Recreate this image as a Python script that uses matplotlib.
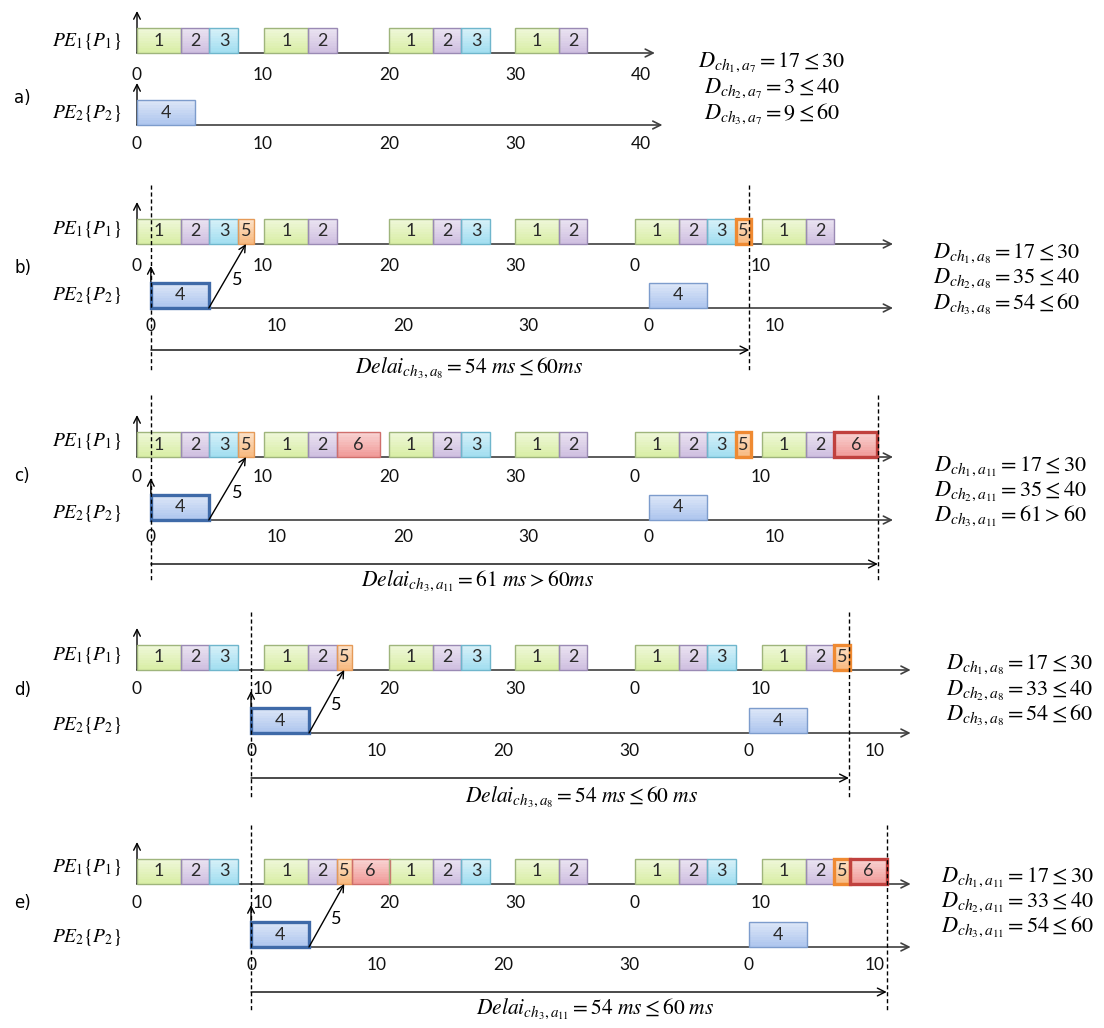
import matplotlib
matplotlib.use("Agg")
import matplotlib.pyplot as plt
import numpy as np
from matplotlib.patches import Rectangle
from matplotlib.colors import to_rgb

plt.rcParams['mathtext.fontset'] = 'stix'

# ---------------- data ----------------
row_names = ['a)', 'b)', 'c)', 'd)', 'e)']
task_dur = {'1': 3.5, '2': 2.25, '3': 2.3, '4': 4.6, '5': 1.2}
dur6 = {'c)': 3.4, 'e)': 3.0}

pe1_groups = {
    'a)': [(0, '123'), (10.1, '12'), (20, '123'), (30, '12')],
    'b)': [(0, '1235'), (10.1, '12'), (20, '123'), (30, '12'), (39.5, '1235'), (49.6, '12')],
    'c)': [(0, '1235'), (10.1, '126'), (20, '123'), (30, '12'), (39.5, '1235'), (49.6, '126')],
    'd)': [(0, '123'), (10.1, '125'), (20, '123'), (30, '12'), (39.5, '123'), (49.6, '125')],
    'e)': [(0, '123'), (10.1, '1256'), (20, '123'), (30, '12'), (39.5, '123'), (49.6, '1256')],
}
# which (group start, task) blocks are drawn with a thick border
pe1_highlight = {
    'a)': [],
    'b)': [(39.5, '5')],
    'c)': [(39.5, '5'), (49.6, '6')],
    'd)': [(49.6, '5')],
    'e)': [(49.6, '5'), (49.6, '6')],
}
pe2_offset = {'a)': 0, 'b)': 1.1, 'c)': 1.1, 'd)': 9.05, 'e)': 9.05}
pe2_blocks = {'a)': [0], 'b)': [0, 39.5], 'c)': [0, 39.5], 'd)': [0, 39.5], 'e)': [0, 39.5]}

tick_pos_a = [0, 10, 20, 30, 40]
tick_lab_a = ['0', '10', '20', '30', '40']
tick_pos = [0, 10, 20, 30, 39.5, 49.5]
tick_lab = ['0', '10', '20', '30', '0', '10']

axis_end_pe1 = {'a)': 41.1, 'b)': 60.0, 'c)': 60.0, 'd)': 61.4, 'e)': 61.4}
axis_end_pe2 = {'a)': 41.7, 'b)': 60.0, 'c)': 60.0, 'd)': 61.4, 'e)': 61.4}

delay_end = {'b)': 48.6, 'c)': 58.8, 'd)': 56.5, 'e)': 59.5}
delay_text = {
    'b)': r'$Delai_{ch_3,a_8} = 54\ ms \leq 60ms$',
    'c)': r'$Delai_{ch_3,a_{11}} = 61\ ms > 60ms$',
    'd)': r'$Delai_{ch_3,a_8} = 54\ ms \leq 60\ ms$',
    'e)': r'$Delai_{ch_3,a_{11}} = 54\ ms \leq 60\ ms$',
}
equations = {
    'a)': [r'$D_{ch_1,a_7} = 17 \leq 30$', r'$D_{ch_2,a_7} = 3 \leq 40$', r'$D_{ch_3,a_7} = 9 \leq 60$'],
    'b)': [r'$D_{ch_1,a_8} = 17 \leq 30$', r'$D_{ch_2,a_8} = 35 \leq 40$', r'$D_{ch_3,a_8} = 54 \leq 60$'],
    'c)': [r'$D_{ch_1,a_{11}} = 17 \leq 30$', r'$D_{ch_2,a_{11}} = 35 \leq 40$', r'$D_{ch_3,a_{11}} = 61 > 60$'],
    'd)': [r'$D_{ch_1,a_8} = 17 \leq 30$', r'$D_{ch_2,a_8} = 33 \leq 40$', r'$D_{ch_3,a_8} = 54 \leq 60$'],
    'e)': [r'$D_{ch_1,a_{11}} = 17 \leq 30$', r'$D_{ch_2,a_{11}} = 33 \leq 40$', r'$D_{ch_3,a_{11}} = 54 \leq 60$'],
}

# ---------------- layout (pixels) ----------------
W, H = 1104, 1028
PX0, PXMS = 137, 12.6
layout = {
    'a)': dict(y1=53, l1=75, y2=125, l2=144, row=98, n1=42, n2=114),
    'b)': dict(y1=244, l1=266, y2=308, l2=326, dl=350, dt=368, d0=185, d1=372, row=268, n1=230, n2=296),
    'c)': dict(y1=457, l1=477, y2=520, l2=537, dl=564, dt=581, d0=395, d1=582, row=476, n1=441, n2=514),
    'd)': dict(y1=670, l1=689, y2=733, l2=751, dl=778, dt=797, d0=612, d1=797, row=690, n1=655, n2=726),
    'e)': dict(y1=884, l1=903, y2=947, l2=965, dl=992, dt=1009, d0=825, d1=1010, row=903, n1=868, n2=938),
}
delay_text_x = {'b)': 469, 'c)': 478, 'd)': 582, 'e)': 595}
eq_x = {'a)': 772, 'b)': 1007, 'c)': 1010, 'd)': 1020, 'e)': 1017}
eq_y = {'a)': [62, 88, 114], 'b)': [253, 278, 304], 'c)': [466, 491, 516],
        'd)': [664, 690, 715], 'e)': [877, 902, 927]}

fill = {'1': '#d9eea6', '2': '#cfbfe0', '3': '#a2def0', '4': '#aec6ee', '5': '#f8ba80', '6': '#f09a98'}
edge = {'1': '#9fb57c', '2': '#9a8ab4', '3': '#6fb6cc', '4': '#7d9ccc', '5': '#e59a58', '6': '#cf6f6c'}
edge_hi = {'4': '#3f6aa8', '5': '#ef8a32', '6': '#c0413e'}
BH = 25
NBANDS = 10

fig = plt.figure(figsize=(W / 100, H / 100), dpi=100)
ax = fig.add_axes([0, 0, 1, 1])
ax.axis('off')
ax.set_xlim(-PX0 / PXMS, (W - PX0) / PXMS)
ax.set_ylim(H, 0)

def ftext(x, y, s, **kw):
    fig.text(x / W, 1 - y / H, s, va='center', zorder=10, **kw)

def block(t, d, yax, lab, hi=False):
    ec = edge_hi[lab] if hi else edge[lab]
    lw = 2.4 if hi else 1.0
    base = np.array(to_rgb(fill[lab]))
    top = base + (1 - base) * 0.55
    hb = BH / NBANDS
    for k in range(NBANDS):
        f = k / (NBANDS - 1)
        c = top * (1 - f) + base * f
        ax.add_patch(Rectangle((t, yax - BH + k * hb), d, hb + 0.3, facecolor=c,
                               edgecolor='none', lw=0, zorder=2.5))
    ax.add_patch(Rectangle((t, yax - BH), d, BH, facecolor='none', edgecolor=ec, lw=lw, zorder=3))
    ax.text(t + d / 2, yax - BH / 2, lab, ha='center', va='center', fontsize=13,
            family='Lato', color='#2a2a2a', zorder=4)

def harrow(t0, t1, y, color='#404040', lw=1.2):
    ax.annotate('', xy=(t1, y), xytext=(t0, y),
                arrowprops=dict(arrowstyle='->', lw=lw, color=color, shrinkA=0, shrinkB=0,
                                mutation_scale=14), zorder=2)

def varrow(t, y0, y1):
    ax.annotate('', xy=(t, y1), xytext=(t, y0),
                arrowprops=dict(arrowstyle='->', lw=1.0, color='black', shrinkA=0, shrinkB=0,
                                mutation_scale=12), zorder=2)

for r in row_names:
    L = layout[r]
    ftext(14, L['row'], r, ha='left', fontsize=12, family='DejaVu Sans')
    ftext(52, L['n1'], r'$PE_1\{P_1\}$', ha='left', fontsize=14)
    ftext(52, L['n2'], r'$PE_2\{P_2\}$', ha='left', fontsize=14)

    # PE1 timeline
    harrow(0, axis_end_pe1[r], L['y1'])
    varrow(0, L['y1'], L['y1'] - 42)
    first5 = None
    for g0, seq in pe1_groups[r]:
        t = g0
        for lab in seq:
            d = dur6[r] if lab == '6' else task_dur[lab]
            block(t, d, L['y1'], lab, (g0, lab) in pe1_highlight[r])
            if lab == '5' and first5 is None:
                first5 = t + d / 2
            t += d
    tp, tl = (tick_pos_a, tick_lab_a) if r == 'a)' else (tick_pos, tick_lab)
    for p, s in zip(tp, tl):
        ax.text(p, L['l1'], s, ha='center', va='center', fontsize=12.5, family='Lato', color='#111111')

    # PE2 timeline
    off = pe2_offset[r]
    harrow(off, axis_end_pe2[r], L['y2'])
    varrow(off, L['y2'], L['y2'] - 42)
    for i, b0 in enumerate(pe2_blocks[r]):
        block(off + b0, task_dur['4'], L['y2'], '4', hi=(r != 'a)' and i == 0))
    for p, s in zip(tp, tl):
        ax.text(off + p, L['l2'], s, ha='center', va='center', fontsize=12.5, family='Lato', color='#111111')

    for s, yy in zip(equations[r], eq_y[r]):
        ftext(eq_x[r], yy, s, ha='center', fontsize=16)

    if r == 'a)':
        continue
    # message 4 -> 5
    x0, y0 = off + task_dur['4'], L['y2']
    x1, y1 = first5, L['y1']
    ax.annotate('', xy=(x1, y1), xytext=(x0, y0),
                arrowprops=dict(arrowstyle='->', lw=1.0, color='black', shrinkA=0, shrinkB=0,
                                mutation_scale=12), zorder=5)
    ax.text((x0 + x1) / 2 + 10 / PXMS, (y0 + y1) / 2 + 4, '5', ha='center', va='center',
            fontsize=13, family='Lato')
    for tx in (off, delay_end[r]):
        ax.plot([tx, tx], [L['d0'], L['d1']], color='black', lw=1.0, ls=(0, (3, 2)), zorder=6)
    harrow(off, delay_end[r], L['dl'], color='black', lw=1.0)
    ftext(delay_text_x[r], L['dt'], delay_text[r], ha='center', fontsize=15.5)

fig.savefig('out.png', dpi=100)
